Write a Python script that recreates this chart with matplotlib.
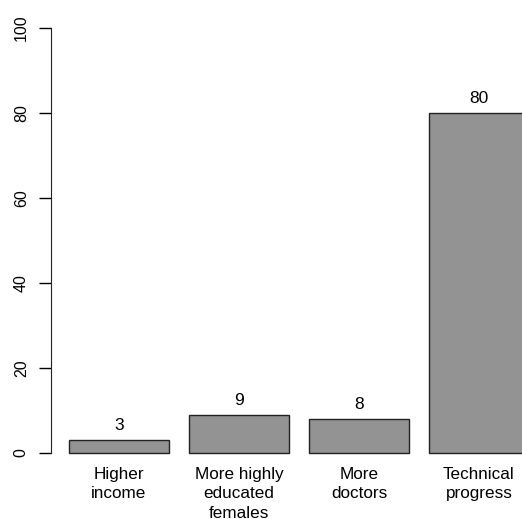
import matplotlib
matplotlib.use("Agg")
import matplotlib.pyplot as plt

# данные
categories = ["Higher\nincome", "More highly\neducated\nfemales", "More\ndoctors", "Technical\nprogress"]
values = [3, 9, 8, 80]
yticks = [0, 20, 40, 60, 80, 100]

plt.rcParams['font.family'] = ['Liberation Sans', 'DejaVu Sans']

fig = plt.figure(figsize=(5.22, 5.19), dpi=100)
ax = fig.add_axes([51 / 522, 49 / 519, 471 / 522, 459 / 519])

# позиции как в R barplot: ширина 1, промежуток 0.2
centers = [0.7 + 1.2 * i for i in range(len(values))]
ax.bar(centers, values, width=1.0, color="#939393", edgecolor="#222222", linewidth=1.0)

for x, v in zip(centers, values):
    ax.annotate(str(v), (x, v), xytext=(0, 5), textcoords="offset points",
                ha="center", va="bottom", fontsize=12.5)

for x, lab in zip(centers, categories):
    ax.text(x, -3.2, lab, ha="center", va="top", fontsize=12.3,
            linespacing=1.38, clip_on=False)

ax.set_xlim(0.02, 4.73)
ax.set_ylim(-4, 104)
ax.set_yticks(yticks)
ax.set_yticklabels([str(t) for t in yticks], rotation=90, va="center", fontsize=11.5)
ax.tick_params(axis="y", length=9, width=1, pad=7)
ax.set_xticks([])
for s in ["top", "right", "bottom"]:
    ax.spines[s].set_visible(False)
ax.spines["left"].set_bounds(0, 100)
ax.spines["left"].set_color("#222222")

fig.savefig("out.png", dpi=100)
